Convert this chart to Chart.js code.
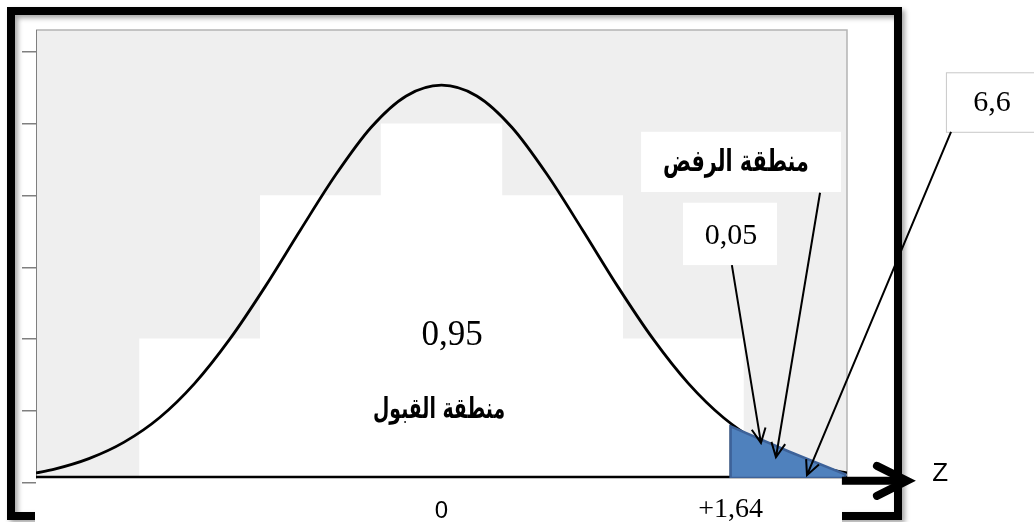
<!DOCTYPE html>
<html>
<head>
<meta charset="utf-8">
<script src="https://cdn.jsdelivr.net/npm/chart.js@4/dist/chart.umd.min.js"></script>
<style>
  html, body { margin: 0; padding: 0; background: #fff; }
  #wrap { width: 1034px; height: 522px; }
</style>
</head>
<body>
<div id="wrap"><canvas id="chart" width="1034" height="522"></canvas></div>
<script>
// z axis ticks and labels
const zTicks = [0, 1.64];
const zTickLabels = ["0", "+1,64"];
const yTicks = [0, 1, 2, 3, 4, 5, 6];

// histogram behind the curve (white bars)
const binCenters = [-1.37, -0.685, 0, 0.685, 1.37];
const binCounts = [2, 4, 5, 4, 2];

// normal curve
const curveZ = [-2.3, -2.2, -2.0, -1.8, -1.6, -1.4, -1.2, -1.0, -0.8, -0.6, -0.4, -0.2, 0,
                0.2, 0.4, 0.6, 0.8, 1.0, 1.2, 1.4, 1.6, 1.8, 2.0, 2.2, 2.3];
const curveDensity = [0.13, 0.18, 0.33, 0.56, 0.90, 1.38, 2.00, 2.73, 3.52, 4.29, 4.95, 5.39, 5.54,
                      5.39, 4.95, 4.29, 3.52, 2.73, 2.00, 1.38, 0.90, 0.56, 0.33, 0.18, 0.13];

// rejection tail (blue shape) and critical value line
const tailZ = [1.64, 1.64, 1.97, 2.29, 2.29, 1.64];
const tailTop = [0.06, 0.78, 0.43, 0.11, 0.06, 0.06];
const cutZ = [1.64, 1.64];
const cutY = [0.06, 0.80];

// texts
const acceptValue = "0,95";
const acceptLabel = "منطقة القبول";
const rejectLabel = "منطقة الرفض";
const alphaValue = "0,05";
const statValue = "6,6";
const axisName = "Z";

// annotation placement, in data units of the two scales
const NOTE = {
  accept: { z: 0.06, y: 2.05 },
  acceptLbl: { z: -0.014, y: 1.0, w: 132 },
  rejectBox: { z0: 1.132, z1: 2.266, y0: 4.05, y1: 4.89 },
  rejectLbl: { z: 1.67, y: 4.45, w: 146 },
  alphaBox: { z0: 1.37, z1: 1.903, y0: 3.03, y1: 3.90 },
  alpha: { z: 1.642, y: 3.44 },
  statBox: { z0: 2.861, z1: 3.40, y0: 4.89, y1: 5.72 },
  stat: { z: 3.122, y: 5.29 },
  axisLine: 0.074,
  zArrow: { z0: 2.271, z1: 2.64, y: 0.02 },
  zName: { z: 2.828, y: 0.12 },
  arrows: [
    { z0: 1.647, y0: 3.03, z1: 1.812, y1: 0.55 },
    { z0: 2.147, y0: 4.04, z1: 1.897, y1: 0.35 },
    { z0: 2.890, y0: 4.89, z1: 2.073, y1: 0.10 }
  ]
};

const SERIF = "'Liberation Serif', 'DejaVu Serif', serif";
const SANS = "'Liberation Sans', 'DejaVu Sans', sans-serif";
const ARABIC = "'DejaVu Sans', sans-serif";

function px(chart, z) { return chart.scales.x.getPixelForValue(z); }
function py(chart, y) { return chart.scales.y.getPixelForValue(y); }

function textAt(ctx, text, x, y, font) {
  ctx.font = font;
  ctx.textAlign = "center";
  ctx.textBaseline = "middle";
  ctx.fillStyle = "#000";
  ctx.fillText(text, x, y);
}

// bold arabic label squeezed sideways to the width it has in the picture
function fitText(ctx, text, x, y, width, size) {
  ctx.save();
  ctx.font = `bold ${size}px ${ARABIC}`;
  const sx = width / ctx.measureText(text).width;
  ctx.translate(x, y);
  ctx.scale(sx, 1);
  textAt(ctx, text, 0, 0, `bold ${size}px ${ARABIC}`);
  ctx.restore();
}

function box(chart, b, border) {
  const ctx = chart.ctx;
  const x0 = px(chart, b.z0), x1 = px(chart, b.z1);
  const y0 = py(chart, b.y1), y1 = py(chart, b.y0);
  ctx.fillStyle = "#fff";
  ctx.fillRect(x0, y0, x1 - x0, y1 - y0);
  if (border) {
    ctx.strokeStyle = border;
    ctx.lineWidth = 1;
    ctx.strokeRect(x0 + 0.5, y0 + 0.5, x1 - x0, y1 - y0);
  }
}

function arrow(ctx, x1, y1, x2, y2) {
  const ang = Math.atan2(y2 - y1, x2 - x1);
  const head = 16, spread = 0.45;
  ctx.beginPath();
  ctx.moveTo(x1, y1);
  ctx.lineTo(x2, y2);
  ctx.moveTo(x2 - head * Math.cos(ang - spread), y2 - head * Math.sin(ang - spread));
  ctx.lineTo(x2, y2);
  ctx.lineTo(x2 - head * Math.cos(ang + spread), y2 - head * Math.sin(ang + spread));
  ctx.stroke();
}

const decor = {
  id: "decor",
  beforeDraw(chart) {
    const { ctx, chartArea: a } = chart;
    ctx.save();
    ctx.fillStyle = "#fff";
    ctx.fillRect(0, 0, chart.width, chart.height);
    // thick frame with a soft shadow
    ctx.shadowColor = "rgba(0,0,0,0.35)";
    ctx.shadowBlur = 5;
    ctx.shadowOffsetX = 3;
    ctx.shadowOffsetY = 3;
    ctx.strokeStyle = "#000";
    ctx.lineWidth = 8;
    ctx.strokeRect(11, 11, 887, 505);
    ctx.restore();

    ctx.save();
    ctx.fillStyle = "#efefef";
    ctx.fillRect(a.left, a.top, a.right - a.left, a.bottom - a.top);
    ctx.strokeStyle = "#b4b4b4";
    ctx.lineWidth = 1.5;
    ctx.beginPath();
    ctx.moveTo(a.left, a.top);
    ctx.lineTo(a.right, a.top);
    ctx.lineTo(a.right, a.bottom);
    ctx.stroke();
    // white strip holding the z labels
    ctx.fillStyle = "#fff";
    ctx.fillRect(a.left - 1, a.bottom + 1, 807, chart.height - a.bottom);
    ctx.restore();
  },
  afterDatasetDraw(chart, args) {
    if (args.meta.type !== "bar") return;
    const { ctx, chartArea: a } = chart;
    const y = py(chart, NOTE.axisLine);
    ctx.save();
    ctx.strokeStyle = "#000";
    ctx.lineWidth = 2.5;
    ctx.beginPath();
    ctx.moveTo(a.left, y);
    ctx.lineTo(a.right, y);
    ctx.stroke();
    ctx.restore();
  },
  afterDraw(chart) {
    const ctx = chart.ctx;
    ctx.save();

    // z axis arrow
    const za = NOTE.zArrow;
    const ax0 = px(chart, za.z0), ax1 = px(chart, za.z1), ay = py(chart, za.y);
    ctx.strokeStyle = "#000";
    ctx.lineWidth = 8;
    ctx.beginPath();
    ctx.moveTo(ax0, ay);
    ctx.lineTo(ax1 - 3, ay);
    ctx.stroke();
    ctx.lineCap = "round";
    ctx.lineJoin = "miter";
    ctx.beginPath();
    ctx.moveTo(ax1 - 30, ay - 15);
    ctx.lineTo(ax1, ay);
    ctx.lineTo(ax1 - 30, ay + 15);
    ctx.stroke();
    textAt(ctx, axisName, px(chart, NOTE.zName.z), py(chart, NOTE.zName.y), `26px ${SANS}`);

    // values and region names
    textAt(ctx, acceptValue, px(chart, NOTE.accept.z), py(chart, NOTE.accept.y), `35px ${SERIF}`);
    fitText(ctx, acceptLabel, px(chart, NOTE.acceptLbl.z), py(chart, NOTE.acceptLbl.y), NOTE.acceptLbl.w, 29);

    box(chart, NOTE.rejectBox, null);
    fitText(ctx, rejectLabel, px(chart, NOTE.rejectLbl.z), py(chart, NOTE.rejectLbl.y), NOTE.rejectLbl.w, 30);

    box(chart, NOTE.alphaBox, null);
    textAt(ctx, alphaValue, px(chart, NOTE.alpha.z), py(chart, NOTE.alpha.y), `30px ${SERIF}`);

    box(chart, NOTE.statBox, "#c8c8c8");
    textAt(ctx, statValue, px(chart, NOTE.stat.z), py(chart, NOTE.stat.y), `30px ${SERIF}`);

    // pointer arrows
    ctx.strokeStyle = "#000";
    ctx.lineWidth = 2;
    ctx.lineCap = "butt";
    ctx.lineJoin = "miter";
    NOTE.arrows.forEach(r => {
      arrow(ctx, px(chart, r.z0), py(chart, r.y0), px(chart, r.z1), py(chart, r.y1));
    });
    ctx.restore();
  }
};

const toXY = (xs, ys) => xs.map((x, i) => ({ x, y: ys[i] }));

new Chart(document.getElementById("chart"), {
  type: "bar",
  data: {
    datasets: [
      {
        type: "bar",
        data: toXY(binCenters, binCounts),
        backgroundColor: "#ffffff",
        borderWidth: 0,
        barPercentage: 1,
        categoryPercentage: 1,
        order: 5
      },
      {
        type: "line",
        data: toXY(curveZ, curveDensity),
        borderColor: "#000",
        borderWidth: 2.8,
        pointRadius: 0,
        cubicInterpolationMode: "monotone",
        fill: false,
        order: 3
      },
      {
        type: "line",
        data: toXY(cutZ, cutY),
        borderColor: "#000",
        borderWidth: 2,
        pointRadius: 0,
        fill: false,
        order: 2
      },
      {
        type: "line",
        data: toXY(tailZ, tailTop),
        borderColor: "#3d6299",
        backgroundColor: "#4f81bd",
        borderWidth: 2.5,
        pointRadius: 0,
        tension: 0,
        fill: "shape",
        order: 1
      }
    ]
  },
  options: {
    responsive: false,
    animation: false,
    devicePixelRatio: 1,
    layout: { padding: { left: 22, right: 187, top: 30, bottom: 0 } },
    plugins: { legend: { display: false }, tooltip: { enabled: false } },
    scales: {
      x: {
        type: "linear",
        min: -2.3,
        max: 2.3,
        offset: false,
        grid: { display: false, offset: false },
        border: { display: false },
        afterBuildTicks: s => { s.ticks = zTicks.map(v => ({ value: v })); },
        afterFit: s => { s.height = 44; },
        ticks: {
          padding: 10,
          color: "#000",
          maxRotation: 0,
          autoSkip: false,
          callback: v => zTickLabels[zTicks.indexOf(v)],
          font: c => (c.index === 0)
            ? { family: SANS, size: 24, lineHeight: 1.3 }
            : { family: SERIF, size: 28, lineHeight: 1.0 }
        }
      },
      y: {
        min: 0.06,
        max: 6.31,
        afterBuildTicks: s => { s.ticks = yTicks.map(v => ({ value: v })); },
        afterFit: s => { s.width = 14; },
        grid: { drawOnChartArea: false, drawTicks: true, tickLength: 14, color: "#7f7f7f", lineWidth: 1.5 },
        border: { display: true, color: "#7f7f7f", width: 1 },
        ticks: { display: false }
      }
    }
  },
  plugins: [decor]
});
</script>
</body>
</html>
